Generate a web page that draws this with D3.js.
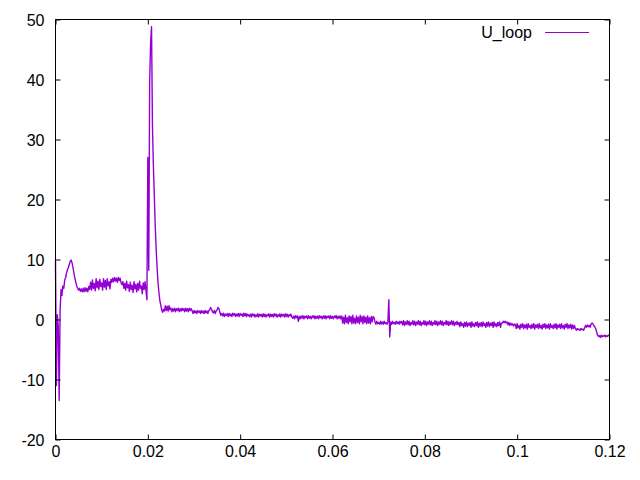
<!DOCTYPE html>
<html><head><meta charset="utf-8">
<script src="https://cdn.jsdelivr.net/npm/d3@7/dist/d3.min.js"></script>
<style>
body{margin:0;background:#fff}
text{font-family:"Liberation Sans",Arial,sans-serif;font-size:16px;fill:#000}
</style>
</head><body>
<svg id="chart" width="640" height="480"></svg>
<script>
// ---------- data ----------
const seriesName = "U_loop";
const sampleStep = 0.0002;           // time between samples (s)
const xTicks = [0, 0.02, 0.04, 0.06, 0.08, 0.1, 0.12];
const xTickLabels = ["0", "0.02", "0.04", "0.06", "0.08", "0.1", "0.12"];
const yTicks = [-20, -10, 0, 10, 20, 30, 40, 50];
const yTickLabels = ["-20", "-10", "0", "10", "20", "30", "40", "50"];

const startup = [9.8,-11.0,0.8,-1.2,-13.5,1.5,5.0,4.0,5.6,5.2,6.6,7.0,7.8,8.3,8.7,9.2,9.7,9.9,9.4,8.6,
  7.7,6.9,6.2,5.6,5.2,4.9,5.2,4.7,5.1,4.6,5.2];
const plateau = [4.6,5.3,4.7,5.2,4.6,5.5,
  5.0,6.2,4.9,6.6,5.2,6.0,4.8,6.8,5.3,6.4,5.0,6.7,5.5,6.1,4.9,6.8,5.4,6.5,5.0,6.8,5.6,6.3,5.1,6.7,
  6.2,6.9,6.3,7.0,6.4,6.9,6.2,7.0,6.5,6.9,6.1,
  5.8,6.3,5.2,6.0,4.9,6.4,5.3,5.8,4.7,6.2,5.0,5.7,4.5,6.3,5.1,5.9,4.6,6.0,4.9,6.4,5.2,5.6,4.3,6.1,5.0,6.3,4.8,
  3.3];
const spike = [27.0,8.2,40.0,46.0,48.8,32.3,25.7,20.7,15.7,11.8,8.7,6.2,4.5,3.2,2.4,1.6,1.2,1.7];
const decay = [1.4,2.3,1.5,2.2,1.4,2.3,1.6,1.9,1.3,1.8,1.4,1.9,1.3,1.8,1.5,1.9,1.3,1.8,1.4,1.9,1.5,1.8,1.3,1.9,1.4,1.8,1.3,1.9,1.5,1.8,1.4,
  1.0,1.5,1.1,1.4,1.0,1.5,1.2,1.4,1.0,1.5,1.1,1.4,1.0,1.5,1.1,1.4,1.0,1.5,
  1.6,2.0,1.7,1.3,
  1.1,1.5,1.0,1.4,1.6,2.0,1.8,1.2,
  0.7,1.0,0.6,1.05,0.5,0.9,0.7,1.0,0.5,1.0,0.6,0.9,0.5,1.05,0.7,1.0,0.5,0.9,0.6,1.0,0.5,1.0,0.7,0.9,0.5,1.05,0.6,1.0,0.5,0.9,0.7];
const midRun = [0.5,0.9,0.4,0.95,0.6,0.9,0.4,0.8,0.5,0.95,0.4,0.9,0.6,0.85,0.4,0.95,0.5,0.9,0.4,0.8,
  0.6,0.95,0.4,0.9,0.5,0.85,0.4,0.95,0.6,0.9,0.4,0.8,0.5,0.95,0.4,0.9,0.6,0.85,0.4,0.95,0.5,0.9,0.4,0.8,0.6,0.9,0.4,
  0.2,0.6,0.1,0.65,0.3,0.6,-0.3,0.5,0.1,0.6,0.2,0.65,0.1,0.55,0.3,0.6,0.1,0.65,0.2,0.5,
  0.1,0.6,0.3,0.65,0.1,0.55,0.2,0.6,0.1,0.65,0.3,0.5,0.1,0.6,0.2,0.65,0.1,0.55,0.3,0.6,
  0.1,0.65,0.2,0.5,0.1,0.6,0.3,0.65,0.1,0.55,0.2,0.6,0.1,
  0.6,-0.6,0.4,-0.7,0.7,-0.5,0.3,-0.7,0.6,-0.4,0.5,-0.7,0.7,-0.6,0.2,-0.7,0.6,-0.5,0.4,-0.7,0.7,-0.4,0.5,-0.7,0.6,-0.5,
  0.4,-0.7,0.6,-0.6,0.3,-0.7,0.5,-0.4,
  0.5,0.3,
  -0.4,-0.8,-0.3,-0.7,-0.5,-0.8,-0.3,-0.75,-0.4,-0.8,-0.3,-0.7,-0.5,-0.8,-0.4];
const glitch = [3.3,-2.9];
const lateRun = [-0.4,-0.8,-0.3,-0.7,-0.5,-0.8,-0.3,-0.7,-0.4,-0.8,-0.3,-0.6,
  -0.3,-0.9,-0.2,-1.0,-0.4,-0.8,-0.2,-0.9,-0.3,-1.0,-0.5,-0.8,-0.2,-0.9,-0.3,-1.0,-0.4,-0.8,-0.2,-0.9,
  -0.3,-1.0,-0.5,-0.8,-0.2,-0.9,-0.3,-1.0,-0.4,-0.8,-0.2,-0.9,-0.3,-1.0,-0.5,-0.8,-0.2,-0.9,-0.3,-1.0,
  -0.4,-0.8,-0.2,-0.9,-0.3,-1.0,-0.5,-0.8,-0.2,-0.9,-0.3,-1.0,-0.4,-0.8,-0.2,-0.9,-0.3,-1.0,-0.5,-0.8,-0.3,-0.9,
  -0.5,-1.2,-0.4,-1.0,-0.7,-1.3,-0.5,-1.1,-0.4,-1.2,-0.6,-1.0,-0.5,-1.3,-0.4,-1.1,-0.7,-1.2,-0.5,-1.0,
  -0.4,-1.3,-0.6,-1.1,-0.5,-1.2,-0.4,-1.0,-0.7,-1.3,-0.5,-1.1,-0.4,-1.2,-0.6,-1.0,-0.5,-1.3,-0.4,-1.1,
  -0.7,-1.2,-0.5,-1.0,-0.4,-1.3,-0.6,
  -0.6,-0.3,-0.5,-0.3,-0.6,-0.4,-0.9,-0.5,-1.0,-0.6,-0.9,-0.7,-1.1,-0.8];
const tailRun = [-0.8,-1.5,-0.7,-1.4,-1.0,-1.6,-0.8,-1.3,-0.7,-1.5,-0.9,-1.4,-0.8,-1.6,-0.7,-1.3,-1.0,-1.5,-0.8,-1.4,
  -0.7,-1.6,-0.9,-1.3,-0.8,-1.5,-0.7,-1.4,-1.0,-1.6,-0.8,-1.3,-0.7,-1.5,-0.9,-1.4,-0.8,-1.6,-0.7,-1.3,
  -1.0,-1.5,-0.8,-1.4,-0.7,-1.6,-0.9,-1.3,-0.8,-1.5,-0.7,-1.4,-1.0,-1.6,-0.8,-1.3,-0.7,-1.5,-0.9,-1.4,
  -0.8,-1.6,-0.9,-1.5,-1.0,
  -1.5,-1.8,-1.5,-1.7,-1.6,-1.8,-1.5,-1.7,-1.6,-1.8,-1.4,
  -1.0,-1.3,-0.9,-1.2,-1.0,-1.3,-0.8,-0.6,-0.7,-1.0,-1.2,-1.5,-2.0,
  -2.6,-2.8,-2.7,-3.0,-2.6,-2.9,-2.7,-2.8,-2.6,-2.9,-2.7,-2.8,-2.6,-2.7];

const U_loop = [].concat(startup, plateau, spike, decay, midRun, glitch, lateRun, tailRun);

// ---------- chart ----------
const L = 55.5, R = 609.5, T = 19.5, B = 439.5;
const svg = d3.select("#chart");
const x = d3.scaleLinear().domain([0, 0.12]).range([L, R]);
const y = d3.scaleLinear().domain([-20, 50]).range([B, T]);
const color = "#9400d3";
const tick = 5;

// data line
svg.append("path")
  .datum(U_loop)
  .attr("fill", "none")
  .attr("stroke", color)
  .attr("stroke-width", 1.4)
  .attr("stroke-linejoin", "round")
  .attr("d", d3.line().x((d, i) => x(i * sampleStep)).y(d => y(d)));

// axes (gnuplot style, inward ticks, mirrored)
function styleAxis(g) {
  g.select(".domain").remove();
  g.selectAll(".tick line").attr("stroke", "#000");
  g.selectAll(".tick text").attr("font-family", null).attr("font-size", null).attr("fill", "#000");
}
svg.append("g").attr("transform", `translate(0,${B})`)
  .call(d3.axisBottom(x).tickValues(xTicks).tickFormat((d, i) => xTickLabels[i]).tickSizeInner(-tick).tickSizeOuter(0).tickPadding(17))
  .call(styleAxis);
svg.append("g").attr("transform", `translate(0,${T})`)
  .call(d3.axisTop(x).tickValues(xTicks).tickFormat("").tickSizeInner(-tick).tickSizeOuter(0))
  .call(styleAxis);
svg.append("g").attr("transform", `translate(${L},0)`)
  .call(d3.axisLeft(y).tickValues(yTicks).tickFormat((d, i) => yTickLabels[i]).tickSizeInner(-tick).tickSizeOuter(0).tickPadding(11))
  .call(styleAxis);
svg.append("g").attr("transform", `translate(${R},0)`)
  .call(d3.axisRight(y).tickValues(yTicks).tickFormat("").tickSizeInner(-tick).tickSizeOuter(0))
  .call(styleAxis);
svg.selectAll(".tick text").attr("dy", null);
svg.selectAll("g .tick text").each(function () {
  const t = d3.select(this);
  if (t.attr("x") !== null && +t.attr("x") < 0) t.attr("dy", "0.35em");
});

// border
svg.append("rect").attr("x", L).attr("y", T).attr("width", R - L).attr("height", B - T)
  .attr("fill", "none").attr("stroke", "#000").attr("stroke-width", 1);

// legend
svg.append("text").attr("x", 532).attr("y", 38).attr("text-anchor", "end").text(seriesName);
svg.append("line").attr("x1", 545).attr("x2", 589).attr("y1", 32.5).attr("y2", 32.5)
  .attr("stroke", color).attr("stroke-width", 1);
</script>
</body></html>
